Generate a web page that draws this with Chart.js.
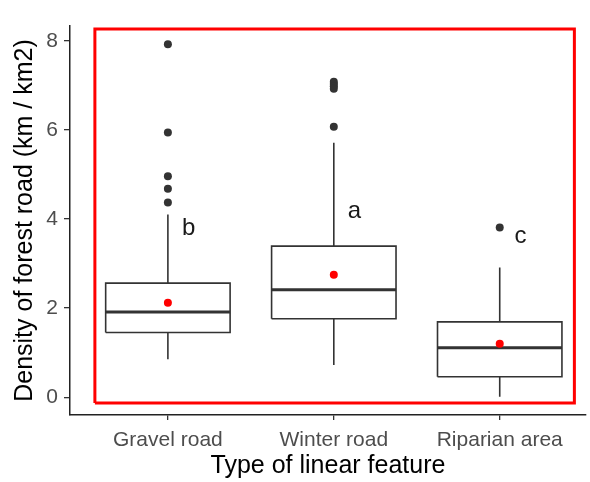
<!DOCTYPE html>
<html>
<head>
<meta charset="utf-8">
<script src="https://cdn.jsdelivr.net/npm/chart.js@4.4.1/dist/chart.umd.min.js"></script>
<style>
  html, body { margin: 0; padding: 0; background: #fff; }
  #chart { display: block; }
</style>
</head>
<body>
<canvas id="chart" width="590" height="482"></canvas>
<script>
// data
const categories = ['Gravel road', 'Winter road', 'Riparian area'];
const q1 = [1.45, 1.76, 0.46];
const medians = [1.91, 2.41, 1.11];
const q3 = [2.56, 3.39, 1.69];
const whiskerLow = [0.85, 0.72, 0.01];
const whiskerHigh = [4.10, 5.71, 2.91];
const means = [2.12, 2.75, 1.20];
const outliers = [
  [7.92, 5.94, 4.96, 4.68, 4.37],
  [7.08, 7.03, 6.98, 6.92, 6.07],
  [3.81]
];
const letters = ['b', 'a', 'c'];
const letterY = [3.64, 4.01, 3.45];
const yTicks = [0, 2, 4, 6, 8];

// layout bits
const boxHalf = 0.375;
const letterShift = 0.125;
const frame = { x0: -0.44, x1: 2.45, y0: -0.13, y1: 8.26 };
const fontFamily = "'Liberation Sans', Arial, sans-serif";

// build the line paths from the arrays above (null = break)
const boxPts = [];
const medianPts = [];
const whiskerPts = [];
categories.forEach((c, i) => {
  const l = i - boxHalf, r = i + boxHalf;
  boxPts.push({x: l, y: q1[i]}, {x: r, y: q1[i]}, {x: r, y: q3[i]}, {x: l, y: q3[i]}, {x: l, y: q1[i]}, {x: l, y: null});
  medianPts.push({x: l, y: medians[i]}, {x: r, y: medians[i]}, {x: r, y: null});
  whiskerPts.push({x: i, y: q3[i]}, {x: i, y: whiskerHigh[i]}, {x: i, y: null});
  whiskerPts.push({x: i, y: q1[i]}, {x: i, y: whiskerLow[i]}, {x: i, y: null});
});
const outlierPts = [];
outliers.forEach((arr, i) => arr.forEach(v => outlierPts.push({x: i, y: v})));
const meanPts = means.map((v, i) => ({x: i, y: v}));
const framePts = [
  {x: frame.x0, y: frame.y0}, {x: frame.x1, y: frame.y0},
  {x: frame.x1, y: frame.y1}, {x: frame.x0, y: frame.y1}, {x: frame.x0, y: frame.y0}
];

// letters next to each box
const letterPlugin = {
  id: 'letters',
  afterDatasetsDraw(chart) {
    const ctx = chart.ctx;
    const xs = chart.scales.x, ys = chart.scales.y;
    ctx.save();
    ctx.font = '24px ' + fontFamily;
    ctx.fillStyle = '#1a1a1a';
    ctx.textAlign = 'center';
    ctx.textBaseline = 'alphabetic';
    letters.forEach((t, i) => {
      ctx.fillText(t, xs.getPixelForValue(i + letterShift), ys.getPixelForValue(letterY[i]));
    });
    ctx.restore();
  }
};

const lineBase = { type: 'line', pointRadius: 0, tension: 0, spanGaps: false, fill: false };

new Chart(document.getElementById('chart').getContext('2d'), {
  data: {
    datasets: [
      { type: 'scatter', data: meanPts, pointRadius: 4, pointBackgroundColor: '#ff0000', pointBorderWidth: 0 },
      { type: 'scatter', data: outlierPts, pointRadius: 4, pointBackgroundColor: '#333333', pointBorderWidth: 0 },
      Object.assign({}, lineBase, { data: medianPts, borderColor: '#333333', borderWidth: 3 }),
      Object.assign({}, lineBase, { data: boxPts, borderColor: '#333333', borderWidth: 1.6, borderJoinStyle: 'miter' }),
      Object.assign({}, lineBase, { data: whiskerPts, borderColor: '#333333', borderWidth: 1.6 }),
      Object.assign({}, lineBase, { data: framePts, borderColor: '#ff0000', borderWidth: 3, borderJoinStyle: 'miter' })
    ]
  },
  options: {
    responsive: false,
    animation: false,
    layout: { padding: { top: 26, right: 0, bottom: 0, left: 0 } },
    plugins: { legend: { display: false }, tooltip: { enabled: false } },
    scales: {
      x: {
        type: 'linear',
        min: -0.59,
        max: 2.52,
        afterBuildTicks(scale) { scale.ticks = categories.map((c, i) => ({value: i})); },
        afterFit(scale) { scale.height = 67; },
        grid: { display: true, drawOnChartArea: false, drawTicks: true, tickLength: 5, color: '#333333', lineWidth: 1.3 },
        border: { display: true, color: '#222222', width: 1.5 },
        ticks: {
          color: '#4d4d4d',
          font: { family: fontFamily, size: 21 },
          padding: 8,
          maxRotation: 0,
          autoSkip: false,
          callback: (v) => categories[v]
        },
        title: {
          display: true,
          text: 'Type of linear feature',
          color: '#000000',
          font: { family: fontFamily, size: 25 },
          padding: { top: 0, bottom: 1 }
        }
      },
      y: {
        type: 'linear',
        min: -0.4,
        max: 8.33,
        afterBuildTicks(scale) { scale.ticks = yTicks.map(v => ({value: v})); },
        afterFit(scale) { scale.width = 70; },
        grid: { display: true, drawOnChartArea: false, drawTicks: true, tickLength: 6, color: '#333333', lineWidth: 1.3 },
        border: { display: true, color: '#222222', width: 1.5 },
        ticks: {
          color: '#4d4d4d',
          font: { family: fontFamily, size: 21 },
          padding: 6
        },
        title: {
          display: true,
          text: 'Density of forest road (km / km2)',
          color: '#000000',
          font: { family: fontFamily, size: 25 },
          padding: { top: 10, bottom: 0 }
        }
      }
    }
  },
  plugins: [letterPlugin]
});
</script>
</body>
</html>
